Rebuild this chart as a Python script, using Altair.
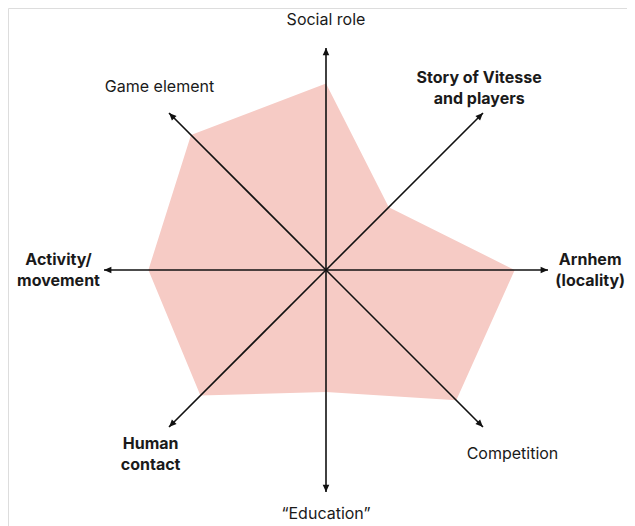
import math
import altair as alt
import pandas as pd

# Data
categories = ["Social role", "Story of Vitesse and players", "Arnhem (locality)", "Competition",
              "\u201cEducation\u201d", "Human contact", "Activity/ movement", "Game element"]
label_lines = [["Social role"], ["Story of Vitesse", "and players"], ["Arnhem", "(locality)"],
               ["Competition"], ["\u201cEducation\u201d"], ["Human", "contact"],
               ["Activity/", "movement"], ["Game element"]]
bold = [False, True, True, False, False, True, True, False]
values = [0.84, 0.40, 0.85, 0.83, 0.55, 0.80, 0.80, 0.86]
# axis direction angles (degrees, counter-clockwise from east)
angles = [90, 45, 0, -45, -90, -135, 180, 135]

# Layout (label anchor offsets, in axis units)
label_pos = [(0.0, 1.126), (0.69, 0.82), (1.19, 0.0), (0.84, -0.83),
             (0.0, -1.10), (-0.79, -0.83), (-1.205, 0.0), (-0.75, 0.824)]

R = 222.0
W, H = 619, 518
cx, cy = 318.0, 262.0
xdom = [-cx / R, (W - cx) / R]
ydom = [-(H - cy) / R, cy / R]

poly = pd.DataFrame({
    "i": list(range(len(values))),
    "x": [v * math.cos(math.radians(a)) for v, a in zip(values, angles)],
    "y": [v * math.sin(math.radians(a)) for v, a in zip(values, angles)],
})
axes = pd.DataFrame({
    "x0": [0.0] * 8, "y0": [0.0] * 8,
    "x": [math.cos(math.radians(a)) for a in angles],
    "y": [math.sin(math.radians(a)) for a in angles],
    "rot": [(90 - a) % 360 for a in angles],
})
labels = pd.DataFrame({
    "t": label_lines,
    "x": [p[0] for p in label_pos],
    "y": [p[1] for p in label_pos],
    "b": bold,
})

xs = alt.Scale(domain=xdom, nice=False, zero=False)
ys = alt.Scale(domain=ydom, nice=False, zero=False)
X = lambda f: alt.X(f, type="quantitative", scale=xs, axis=None)
Y = lambda f: alt.Y(f, type="quantitative", scale=ys, axis=None)

area = alt.Chart(poly).mark_line(
    interpolate="linear-closed", fill="#f6cbc5", stroke=None, strokeWidth=0
).encode(x=X("x"), y=Y("y"), order="i:Q")

rules = alt.Chart(axes).mark_rule(color="#111111", strokeWidth=1.6).encode(
    x=X("x0"), y=Y("y0"), x2="x", y2="y")

heads = alt.Chart(axes).mark_point(
    shape="M0,0L-0.38,0.85L0.38,0.85Z", filled=True, color="#111111", opacity=1, size=300
).encode(x=X("x"), y=Y("y"), angle=alt.Angle("rot:Q", scale=None))

font = "Inter"
txt_normal = alt.Chart(labels[~labels["b"]]).mark_text(
    font=font, fontSize=16, color="#1a1a1a", align="center", baseline="middle", lineHeight=21
).encode(x=X("x"), y=Y("y"), text="t")
txt_bold = alt.Chart(labels[labels["b"]]).mark_text(
    font=font, fontSize=16, fontWeight="bold", color="#1a1a1a", align="center",
    baseline="middle", lineHeight=21, dy=-10
).encode(x=X("x"), y=Y("y"), text="t")

chart = alt.layer(area, rules, heads, txt_normal, txt_bold).properties(
    width=W, height=H, autosize="none", padding=0
).configure_view(stroke=None).configure(background="white")

chart.save("out.html", embed_options={"renderer": "svg", "actions": False})
